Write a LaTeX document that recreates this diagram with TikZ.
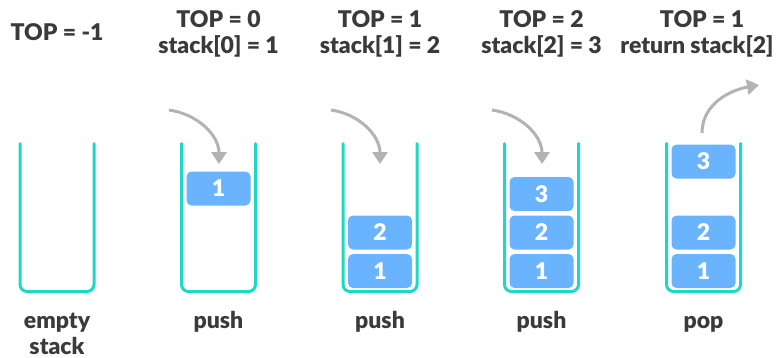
\documentclass[tikz,border=0pt]{standalone}
\usepackage{fontspec}
\setmainfont{Lato}
\newfontfamily\heavyfont{Lato Black}
\usetikzlibrary{arrows.meta}
\definecolor{teal1}{HTML}{1ED8C6}
\definecolor{blue1}{HTML}{6AB4FF}
\definecolor{gray1}{HTML}{B3B3B3}
\definecolor{txt}{HTML}{3A3A3A}
\tikzset{
  lbl/.style={font=\fontsize{23}{26}\selectfont\heavyfont, text=txt, inner sep=0pt, anchor=base},
  wall/.style={draw=teal1, line width=3pt, rounded corners=7pt, line cap=round},
  blk/.style={fill=blue1, rounded corners=5pt, minimum width=64pt, minimum height=34pt, inner sep=0pt,
     text=white, font=\fontsize{23}{26}\selectfont\heavyfont},
  mv/.style={draw=gray1, line width=3pt, -{Triangle[width=15pt,length=12pt]}},
}
\begin{document}
\begin{tikzpicture}[x=1pt,y=-1pt]
\useasboundingbox (0,0) rectangle (782,357);
% stacks
\foreach \c/\n in {57/s1,218.5/s2,380/s3,541.5/s4,703.5/s5}{
  \draw[wall] (\c-37,143.5) -- (\c-37,291.5) -- (\c+37,291.5) -- (\c+37,143.5);
}
% top labels
\node[lbl] (t1) at (57,40) {TOP = -1};
\node[lbl] (t2a) at (218.5,27) {TOP = 0};
\node[lbl] (t2b) at (218.5,53) {stack[0] = 1};
\node[lbl] (t3a) at (380,27) {TOP = 1};
\node[lbl] (t3b) at (380,53) {stack[1] = 2};
\node[lbl] (t4a) at (541.5,27) {TOP = 2};
\node[lbl] (t4b) at (541.5,53) {stack[2] = 3};
\node[lbl] (t5a) at (702,27) {TOP = 1};
\node[lbl] (t5b) at (697,53) {return stack[2]};
% bottom labels
\node[lbl] (b1a) at (57,328) {empty};
\node[lbl] (b1b) at (57,354) {stack};
\node[lbl] (b2) at (218.5,328) {push};
\node[lbl] (b3) at (380,328) {push};
\node[lbl] (b4) at (541.5,328) {push};
\node[lbl] (b5) at (703.5,328) {pop};
% blocks
\node[blk] (k21) at (218.5,188.5) {1};
\node[blk] (k31) at (380,271) {1};
\node[blk] (k32) at (380,232.5) {2};
\node[blk] (k41) at (541.5,271) {1};
\node[blk] (k42) at (541.5,232.5) {2};
\node[blk] (k43) at (541.5,194) {3};
\node[blk] (k51) at (703.5,271) {1};
\node[blk] (k52) at (703.5,232.5) {2};
\node[blk] (k53) at (703.5,161.5) {3};
% arrows
\coordinate (a2s) at (169,110); \coordinate (a2e) at (219,164);
\coordinate (a3s) at (331,110); \coordinate (a3e) at (380,164);
\coordinate (a4s) at (492,110); \coordinate (a4e) at (542,164);
\coordinate (a5s) at (702,133); \coordinate (a5e) at (759,85);
\draw[mv] (a2s) to[out=-8,in=90] (a2e);
\draw[mv] (a3s) to[out=-8,in=90] (a3e);
\draw[mv] (a4s) to[out=-8,in=90] (a4e);
\draw[mv] (a5s) to[out=90,in=190] (a5e);
\end{tikzpicture}
\end{document}
